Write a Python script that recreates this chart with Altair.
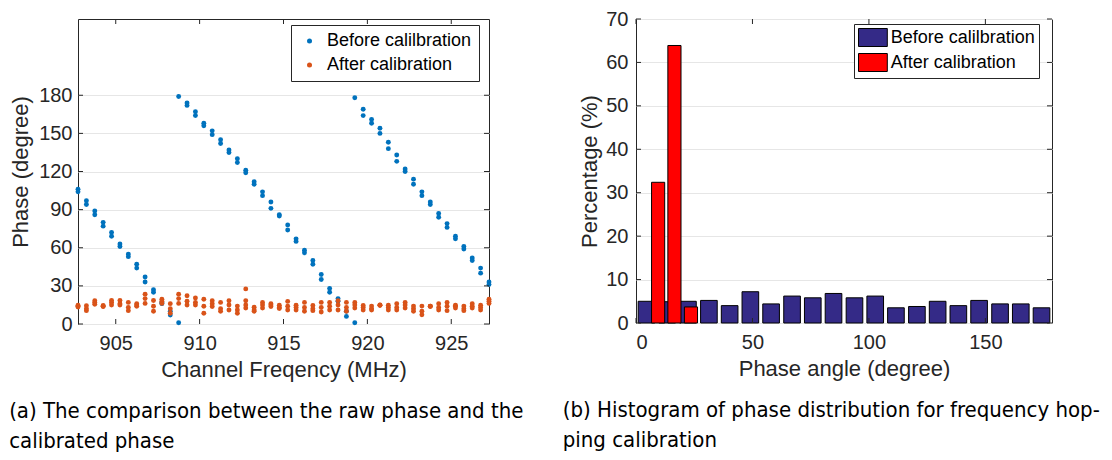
import altair as alt
import pandas as pd

# ---------------- data ----------------
freq = [902.75, 903.25, 903.75, 904.25, 904.75, 905.25, 905.75, 906.25, 906.75, 907.25,
        907.75, 908.25, 908.75, 909.25, 909.75, 910.25, 910.75, 911.25, 911.75, 912.25,
        912.75, 913.25, 913.75, 914.25, 914.75, 915.25, 915.75, 916.25, 916.75, 917.25,
        917.75, 918.25, 918.75, 919.25, 919.75, 920.25, 920.75, 921.25, 921.75, 922.25,
        922.75, 923.25, 923.75, 924.25, 924.75, 925.25, 925.75, 926.25, 926.75, 927.25]

before_a = [106, 97, 89, 80, 72, 63, 55, 47, 37, 27,
            17, 10, 1, 174, 167, 158, 152, 145, 137, 130,
            121, 112, 104, 96, 86, 78, 67, 58, 50, 39,
            28, 20, 10, 1, 169, 161, 154, 143, 133, 122,
            114, 104, 96, 87, 79, 69, 61, 52, 44, 33]
before_b = [104, 94, 86, 77, 69, 61, 53, 44, 33, 25,
            16, 7, 179, 172, 164, 156, 149, 142, 135, 127,
            119, 110, 101, 91, 85, 74, 65, 56, 47, 35,
            25, 18, 6, 178, 164, 158, 150, 138, 128, 120,
            110, 101, 94, 84, 76, 67, 59, 50, 40, 31]

after_a = [14.8, 14.4, 18.3, 14.5, 18.5, 18.5, 17.0, 16.0, 23.5, 18.5,
           19.5, 16.0, 23.5, 22.2, 20.5, 19.5, 18.3, 17.0, 18.3, 14.1,
           18.3, 13.2, 17.0, 16.0, 14.8, 17.8, 14.8, 17.0, 14.5, 17.0,
           17.0, 18.3, 17.0, 17.0, 14.5, 14.1, 14.8, 14.8, 16.0, 17.0,
           14.1, 14.1, 14.1, 16.0, 17.0, 14.8, 14.1, 16.0, 14.8, 19.5]
after_m = [14, 12, 17, 14, 17, 16, 13, 15, 20, 14,
           18, 12, 20, 18, 17, 14, 16, 12, 15, 11,
           15, 11, 15, 15, 13, 14, 13, 13, 12, 13,
           14, 15, 13, 15, 13, 12, 15, 13, 13, 15,
           12, 10, 14, 13, 14, 14, 12, 14, 13, 18]
after_b = [13.3, 10.5, 15.5, 13.8, 15.0, 15.0, 10.5, 14.0, 16.2, 10.0,
           16.2, 8.5, 16.2, 15.0, 15.0, 8.5, 13.8, 10.0, 11.0, 8.5,
           12.5, 10.0, 12.5, 13.8, 12.2, 11.0, 11.0, 10.0, 10.5, 9.5,
           11.0, 11.0, 10.0, 12.5, 11.0, 11.0, 14.7, 11.0, 11.0, 12.5,
           10.0, 7.2, 13.8, 11.0, 10.5, 12.5, 10.5, 12.5, 11.0, 16.2]
after_extra_f = [912.75]
after_extra_v = [27.6]

series_a = ["Before calilbration", "After calibration"]
x_ticks_a = [905, 910, 915, 920, 925]
y_ticks_a = [0, 30, 60, 90, 120, 150, 180]

hist_before_center = [4.5, 13.4, 22.3, 31.3, 40.2, 49.1, 58.0, 67.0, 75.9, 84.8,
                      93.8, 102.7, 111.6, 120.6, 129.5, 138.4, 147.3, 156.3, 165.2, 174.1]
hist_before_pct = [5.0, 4.9, 5.0, 5.2, 4.0, 7.2, 4.4, 6.2, 5.8, 6.8,
                   5.8, 6.2, 3.5, 3.8, 5.0, 4.0, 5.2, 4.4, 4.4, 3.5]
hist_after_center = [9.5, 16.5, 23.6]
hist_after_pct = [32.4, 63.9, 3.7]
before_bin = 8.93
after_bin = 7.05
x_ticks_b = [0, 50, 100, 150]
y_ticks_b = [0, 10, 20, 30, 40, 50, 60, 70]

caption_a = ["(a) The comparison between the raw phase and the", "calibrated phase"]
caption_b = ["(b) Histogram of phase distribution for frequency hop-", "ping calibration"]

# ---------------- styling ----------------
AX = "#262626"
FONT = "Liberation Sans, Arial, Helvetica, sans-serif"
CAP_FONT = "'DejaVu Sans Condensed', 'Liberation Sans Narrow', 'DejaVu Sans', sans-serif"
W1, H1 = 411, 305
W2, H2 = 416, 304
TICK = 5

# ---------------- panel (a) ----------------
rows = []
for f, a, b in zip(freq, before_a, before_b):
    rows.append({"v": f, "w": a, "series": series_a[0]})
    rows.append({"v": f, "w": b, "series": series_a[0]})
for f, a, m, b in zip(freq, after_a, after_m, after_b):
    for val in (a, m, b):
        rows.append({"v": f, "w": val, "series": series_a[1]})
for f, val in zip(after_extra_f, after_extra_v):
    rows.append({"v": f, "w": val, "series": series_a[1]})
df_a = pd.DataFrame(rows)

xs_a = alt.Scale(domain=[902.75, 927.25], nice=False, zero=False)
ys_a = alt.Scale(domain=[0, 240], nice=False, zero=False)
xax_a = alt.Axis(values=x_ticks_a, title="Channel Freqency (MHz)", grid=False,
                 ticks=False, domain=False, labelPadding=9, titlePadding=6, format="d")
yax_a = alt.Axis(values=y_ticks_a, title="Phase (degree)", grid=True,
                 ticks=False, domain=False, labelPadding=6, titlePadding=6.5)

pts = alt.Chart(df_a).mark_circle(size=24, opacity=1).encode(
    x=alt.X("v:Q", scale=xs_a, axis=xax_a),
    y=alt.Y("w:Q", scale=ys_a, axis=yax_a),
    color=alt.Color("series:N",
                    scale=alt.Scale(domain=series_a, range=["#0072BD", "#D95319"]),
                    legend=alt.Legend(title=None, orient="none", legendX=213, legendY=6,
                                      direction="vertical", symbolType="circle",
                                      symbolSize=25, symbolOffset=2.5, labelOffset=8.5,
                                      padding=7, rowPadding=6, strokeColor=AX,
                                      fillColor="white", labelFont=FONT, labelFontSize=18,
                                      labelColor="black", symbolOpacity=1)),
)


def tick_layers(xticks, yticks, xscale, yscale, xaxis, yaxis, W, H):
    dfx = pd.DataFrame({"v": xticks})
    dfy = pd.DataFrame({"w": yticks})
    base_x = alt.Chart(dfx).mark_rule(color=AX, strokeWidth=1)
    base_y = alt.Chart(dfy).mark_rule(color=AX, strokeWidth=1)
    xe = alt.X("v:Q", scale=xscale, axis=xaxis)
    ye = alt.Y("w:Q", scale=yscale, axis=yaxis)
    return [
        base_x.encode(x=xe, y=alt.value(H - TICK), y2=alt.value(H)),
        base_x.encode(x=xe, y=alt.value(0), y2=alt.value(TICK)),
        base_y.encode(y=ye, x=alt.value(0), x2=alt.value(TICK)),
        base_y.encode(y=ye, x=alt.value(W - TICK), x2=alt.value(W)),
    ]


panel_a = alt.layer(
    pts, *tick_layers(x_ticks_a, y_ticks_a, xs_a, ys_a, xax_a, yax_a, W1, H1)
).properties(
    width=W1, height=H1,
    title=alt.TitleParams(text=caption_a, orient="bottom", anchor="start", frame="bounds",
                          font=CAP_FONT, fontSize=22, fontWeight="normal", color="black",
                          lineHeight=30, offset=21, dx=0),
)

# ---------------- panel (b) ----------------
hrows = []
for c, p in zip(hist_before_center, hist_before_pct):
    hrows.append({"c": c, "bw": before_bin, "w": p, "series": series_a[0]})
for c, p in zip(hist_after_center, hist_after_pct):
    hrows.append({"c": c, "bw": after_bin, "w": p, "series": series_a[1]})
df_b = pd.DataFrame(hrows)

xs_b = alt.Scale(domain=[0, 178.6], nice=False, zero=False)
ys_b = alt.Scale(domain=[0, 70], nice=False)
xax_b = alt.Axis(values=x_ticks_b, title="Phase angle (degree)", grid=False,
                 ticks=False, domain=False, labelPadding=9, titlePadding=6)
yax_b = alt.Axis(values=y_ticks_b, title="Percentage (%)", grid=True,
                 ticks=False, domain=False, labelPadding=8, titlePadding=4)

bars = alt.Chart(df_b).transform_calculate(
    v="datum.c - 0.4 * datum.bw", v2="datum.c + 0.4 * datum.bw", base="0"
).mark_rect(stroke="black", strokeWidth=1, opacity=1).encode(
    x=alt.X("v:Q", scale=xs_b, axis=xax_b),
    x2="v2:Q",
    y=alt.Y("w:Q", scale=ys_b, axis=yax_b),
    y2="base:Q",
    color=alt.Color("series:N",
                    scale=alt.Scale(domain=series_a, range=["#342A87", "#FF0000"]),
                    legend=alt.Legend(title=None, orient="none", legendX=218, legendY=5,
                                      direction="vertical",
                                      symbolType="M-1.6,-1H1.6V1H-1.6Z",
                                      symbolSize=324, symbolOffset=5.4, labelOffset=8.3,
                                      padding=4, rowPadding=2, strokeColor=AX,
                                      fillColor="white", labelFont=FONT, labelFontSize=18,
                                      labelColor="black", symbolOpacity=1,
                                      symbolStrokeColor="black", symbolStrokeWidth=1)),
)

panel_b = alt.layer(
    bars, *tick_layers(x_ticks_b, y_ticks_b, xs_b, ys_b, xax_b, yax_b, W2, H2)
).properties(
    width=W2, height=H2,
    title=alt.TitleParams(text=caption_b, orient="bottom", anchor="start", frame="bounds",
                          font=CAP_FONT, fontSize=22, fontWeight="normal", color="black",
                          lineHeight=30, offset=21, dx=-16),
)

chart = alt.hconcat(panel_a, panel_b, spacing=147, bounds="flush").resolve_scale(
    color="independent"
).resolve_legend(color="independent").properties(padding=0).configure_view(
    stroke=AX, strokeWidth=1
).configure_axis(
    labelFont=FONT, labelFontSize=20, labelColor=AX,
    titleFont=FONT, titleFontSize=22, titleColor=AX, titleFontWeight="normal",
    gridColor="#E6E6E6", gridWidth=1,
)

chart.save("out.html", embed_options={"renderer": "svg", "actions": False})
